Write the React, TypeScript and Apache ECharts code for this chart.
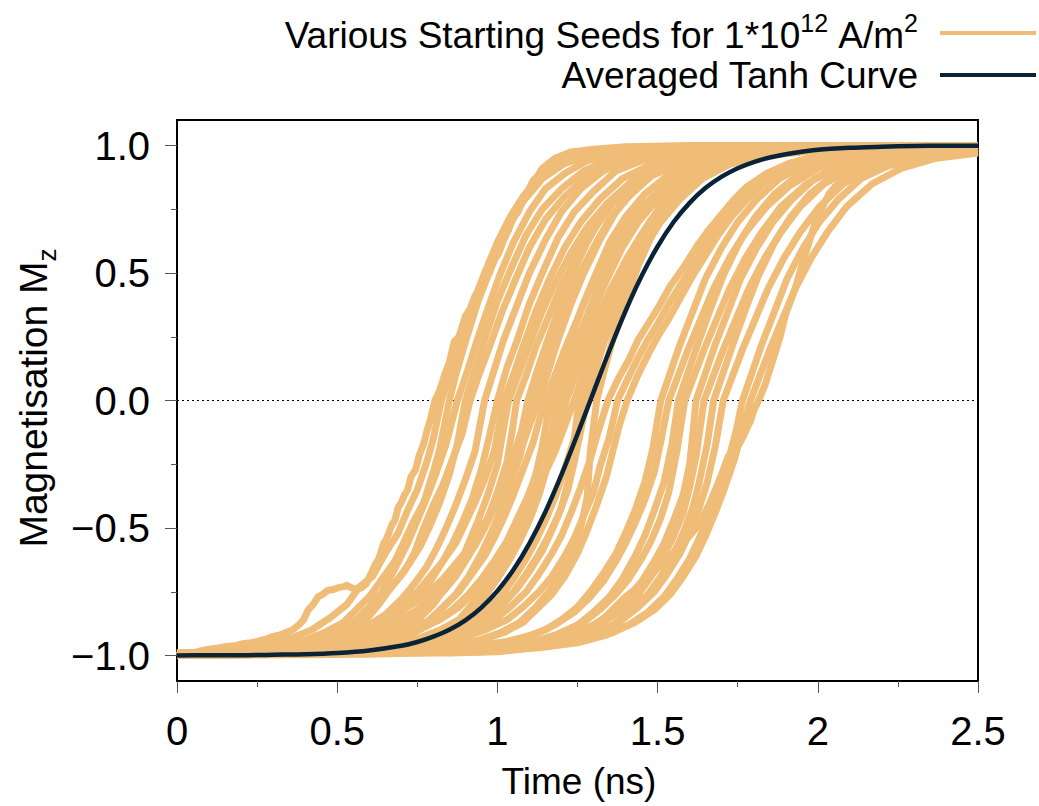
import React, { useEffect, useRef } from 'react';
import * as echarts from 'echarts';

const FONT = '"Liberation Sans", Arial, Helvetica, sans-serif';
const ORANGE = '#EFBD78';
const NAVY = '#0A2336';

const xRange = [0, 2.5];
const yRange = [-1.1, 1.1];
const yMajorValues = [-1, -0.5, 0, 0.5, 1];
const yMinorValues = [-0.75, -0.25, 0.25, 0.75];

const seedName = 'Various Starting Seeds for 1*10^12 A/m^2';
const averageName = 'Averaged Tanh Curve';

const seed01 = [[0,-1.0],[0.03,-0.995],[0.05,-0.99],[0.08,-0.98],[0.1,-0.975],[0.13,-0.97],[0.15,-0.965],[0.18,-0.962],[0.2,-0.955],[0.23,-0.95],[0.25,-0.945],[0.28,-0.935],[0.3,-0.925],[0.32,-0.92],[0.34,-0.91],[0.36,-0.9],[0.38,-0.88],[0.395,-0.86],[0.41,-0.82],[0.425,-0.8],[0.44,-0.77],[0.455,-0.76],[0.47,-0.745],[0.49,-0.74],[0.5,-0.735],[0.52,-0.73],[0.53,-0.725],[0.545,-0.735],[0.56,-0.74],[0.575,-0.735],[0.59,-0.72],[0.605,-0.68],[0.62,-0.64],[0.63,-0.62],[0.645,-0.56],[0.655,-0.54],[0.67,-0.49],[0.68,-0.47],[0.69,-0.42],[0.7,-0.4],[0.71,-0.37],[0.72,-0.35],[0.73,-0.3],[0.745,-0.27],[0.755,-0.22],[0.77,-0.17],[0.78,-0.12],[0.79,-0.08],[0.805,0],[0.82,0.04],[0.835,0.1],[0.85,0.15],[0.865,0.23],[0.88,0.25],[0.9,0.33],[0.915,0.36],[0.93,0.41],[0.945,0.43],[0.96,0.47],[0.975,0.5],[0.99,0.55],[1.005,0.58],[1.02,0.63],[1.035,0.67],[1.05,0.72],[1.065,0.74],[1.08,0.79],[1.095,0.82],[1.11,0.86],[1.125,0.88],[1.14,0.91],[1.16,0.93],[1.18,0.95],[1.2,0.96],[1.23,0.975],[1.3,0.985],[1.4,0.995],[1.6,1.0],[2.0,1.0],[2.5,1.0]];
const seed02 = [[0,-0.995],[0.1,-0.985],[0.2,-0.97],[0.28,-0.955],[0.36,-0.93],[0.42,-0.9],[0.48,-0.85],[0.53,-0.8],[0.57,-0.73],[0.61,-0.69],[0.65,-0.6],[0.69,-0.52],[0.72,-0.43],[0.75,-0.35],[0.78,-0.24],[0.8,-0.15],[0.825,0],[0.855,0.11],[0.885,0.24],[0.92,0.37],[0.96,0.5],[1.0,0.62],[1.04,0.72],[1.08,0.8],[1.12,0.86],[1.16,0.91],[1.2,0.94],[1.26,0.965],[1.34,0.98],[1.45,0.99],[1.7,1.0],[2.5,1.0]];
const seed03 = [[0,-1.0],[0.1,-0.99],[0.2,-0.985],[0.3,-0.97],[0.4,-0.94],[0.46,-0.91],[0.52,-0.87],[0.56,-0.82],[0.6,-0.77],[0.64,-0.7],[0.68,-0.63],[0.71,-0.55],[0.74,-0.47],[0.77,-0.4],[0.8,-0.28],[0.82,-0.19],[0.85,0],[0.87,0.1],[0.9,0.23],[0.94,0.39],[0.98,0.52],[1.03,0.67],[1.08,0.78],[1.14,0.87],[1.21,0.93],[1.3,0.965],[1.41,0.985],[1.6,0.995],[2.0,1.0],[2.5,1.0]];
const seed04 = [[0,-0.995],[0.15,-0.99],[0.3,-0.985],[0.4,-0.965],[0.46,-0.94],[0.52,-0.9],[0.56,-0.86],[0.6,-0.81],[0.64,-0.75],[0.68,-0.66],[0.72,-0.56],[0.75,-0.47],[0.78,-0.38],[0.81,-0.28],[0.84,-0.17],[0.875,0],[0.905,0.11],[0.935,0.23],[0.97,0.36],[1.01,0.5],[1.05,0.62],[1.1,0.74],[1.15,0.83],[1.21,0.89],[1.28,0.94],[1.37,0.97],[1.48,0.985],[1.7,0.995],[2.5,1.0]];
const seed05 = [[0,-1.0],[0.12,-0.99],[0.25,-0.975],[0.35,-0.96],[0.43,-0.94],[0.5,-0.9],[0.56,-0.86],[0.61,-0.81],[0.65,-0.76],[0.69,-0.7],[0.73,-0.63],[0.76,-0.57],[0.79,-0.49],[0.82,-0.4],[0.85,-0.29],[0.875,-0.17],[0.9,0],[0.93,0.12],[0.96,0.24],[1.0,0.39],[1.04,0.51],[1.09,0.65],[1.14,0.75],[1.2,0.83],[1.27,0.9],[1.35,0.945],[1.45,0.97],[1.6,0.99],[1.9,1.0],[2.5,1.0]];
const seed06 = [[0,-0.99],[0.15,-0.985],[0.3,-0.975],[0.4,-0.96],[0.48,-0.93],[0.54,-0.9],[0.59,-0.86],[0.63,-0.8],[0.67,-0.73],[0.71,-0.67],[0.74,-0.6],[0.77,-0.5],[0.8,-0.41],[0.83,-0.33],[0.86,-0.23],[0.89,-0.13],[0.915,0],[0.945,0.11],[0.975,0.21],[1.015,0.35],[1.055,0.47],[1.1,0.6],[1.15,0.71],[1.21,0.8],[1.28,0.88],[1.36,0.93],[1.46,0.96],[1.6,0.98],[1.8,0.99],[2.5,1.0]];
const seed07 = [[0,-0.99],[0.2,-0.985],[0.35,-0.97],[0.45,-0.95],[0.53,-0.92],[0.6,-0.88],[0.65,-0.84],[0.7,-0.78],[0.74,-0.72],[0.78,-0.65],[0.81,-0.58],[0.84,-0.5],[0.87,-0.41],[0.9,-0.31],[0.93,-0.2],[0.945,-0.1],[0.96,0],[0.99,0.12],[1.02,0.24],[1.06,0.37],[1.1,0.5],[1.15,0.63],[1.2,0.74],[1.26,0.83],[1.33,0.9],[1.41,0.945],[1.52,0.97],[1.68,0.985],[2.0,0.995],[2.5,1.0]];
const seed08 = [[0,-1.0],[0.2,-0.99],[0.35,-0.98],[0.45,-0.965],[0.53,-0.945],[0.6,-0.91],[0.66,-0.87],[0.71,-0.82],[0.75,-0.77],[0.79,-0.71],[0.83,-0.63],[0.86,-0.56],[0.89,-0.48],[0.92,-0.39],[0.95,-0.27],[0.975,-0.14],[1.0,0],[1.03,0.13],[1.06,0.23],[1.1,0.38],[1.14,0.5],[1.19,0.64],[1.24,0.74],[1.3,0.82],[1.37,0.9],[1.45,0.94],[1.55,0.97],[1.7,0.985],[2.0,0.995],[2.5,1.0]];
const seed09 = [[0,-0.99],[0.15,-0.985],[0.3,-0.975],[0.4,-0.955],[0.5,-0.93],[0.58,-0.89],[0.65,-0.85],[0.7,-0.8],[0.75,-0.75],[0.79,-0.69],[0.83,-0.63],[0.87,-0.56],[0.9,-0.48],[0.93,-0.4],[0.96,-0.31],[0.99,-0.2],[1.02,0],[1.05,0.1],[1.08,0.21],[1.12,0.35],[1.16,0.47],[1.21,0.6],[1.26,0.7],[1.32,0.79],[1.39,0.87],[1.47,0.92],[1.57,0.955],[1.7,0.975],[1.9,0.99],[2.5,1.0]];
const seed10 = [[0,-1.0],[0.25,-0.995],[0.4,-0.985],[0.5,-0.97],[0.58,-0.955],[0.65,-0.93],[0.71,-0.9],[0.76,-0.85],[0.8,-0.8],[0.84,-0.73],[0.88,-0.65],[0.91,-0.56],[0.94,-0.47],[0.97,-0.37],[1.0,-0.25],[1.015,-0.14],[1.035,0],[1.065,0.1],[1.1,0.22],[1.14,0.35],[1.18,0.46],[1.23,0.58],[1.28,0.68],[1.34,0.77],[1.42,0.86],[1.51,0.92],[1.62,0.955],[1.76,0.98],[1.95,0.99],[2.5,1.0]];
const seed11 = [[0,-1.0],[0.25,-0.99],[0.4,-0.975],[0.52,-0.955],[0.6,-0.93],[0.67,-0.9],[0.73,-0.86],[0.78,-0.81],[0.83,-0.75],[0.87,-0.69],[0.91,-0.61],[0.94,-0.54],[0.97,-0.46],[1.0,-0.36],[1.03,-0.24],[1.045,-0.13],[1.06,0],[1.09,0.1],[1.12,0.21],[1.16,0.33],[1.2,0.45],[1.25,0.57],[1.3,0.67],[1.36,0.77],[1.43,0.85],[1.52,0.91],[1.63,0.95],[1.78,0.975],[2.0,0.99],[2.5,1.0]];
const seed12 = [[0,-0.995],[0.2,-0.99],[0.35,-0.98],[0.47,-0.96],[0.56,-0.935],[0.63,-0.9],[0.7,-0.86],[0.75,-0.82],[0.8,-0.77],[0.85,-0.71],[0.89,-0.64],[0.93,-0.57],[0.96,-0.5],[0.99,-0.42],[1.02,-0.33],[1.05,-0.22],[1.075,-0.12],[1.095,0],[1.125,0.12],[1.155,0.23],[1.195,0.37],[1.235,0.5],[1.28,0.62],[1.33,0.73],[1.39,0.82],[1.46,0.89],[1.54,0.94],[1.65,0.97],[1.8,0.985],[2.1,0.995],[2.5,1.0]];
const seed13 = [[0,-1.0],[0.25,-0.99],[0.45,-0.98],[0.58,-0.96],[0.66,-0.94],[0.72,-0.91],[0.78,-0.87],[0.83,-0.81],[0.87,-0.76],[0.91,-0.69],[0.95,-0.6],[0.98,-0.52],[1.01,-0.43],[1.04,-0.33],[1.07,-0.22],[1.09,-0.12],[1.11,0],[1.14,0.11],[1.17,0.22],[1.21,0.36],[1.25,0.48],[1.3,0.6],[1.35,0.71],[1.41,0.8],[1.48,0.88],[1.57,0.93],[1.68,0.965],[1.82,0.98],[2.05,0.99],[2.5,1.0]];
const seed14 = [[0,-0.99],[0.15,-0.985],[0.3,-0.97],[0.4,-0.95],[0.5,-0.925],[0.58,-0.9],[0.65,-0.86],[0.72,-0.81],[0.78,-0.76],[0.83,-0.7],[0.87,-0.64],[0.91,-0.58],[0.95,-0.5],[0.99,-0.42],[1.02,-0.35],[1.05,-0.26],[1.08,-0.17],[1.105,-0.08],[1.13,0],[1.16,0.12],[1.19,0.24],[1.23,0.38],[1.27,0.5],[1.32,0.63],[1.37,0.74],[1.43,0.83],[1.5,0.9],[1.58,0.945],[1.68,0.97],[1.83,0.985],[2.1,0.995],[2.5,1.0]];
const seed15 = [[0,-1.0],[0.3,-0.99],[0.45,-0.98],[0.57,-0.96],[0.66,-0.93],[0.73,-0.9],[0.79,-0.86],[0.84,-0.8],[0.88,-0.75],[0.92,-0.68],[0.96,-0.61],[0.99,-0.54],[1.02,-0.46],[1.05,-0.37],[1.08,-0.27],[1.11,-0.17],[1.13,-0.08],[1.15,0],[1.18,0.1],[1.21,0.2],[1.25,0.32],[1.29,0.44],[1.34,0.56],[1.39,0.66],[1.45,0.76],[1.53,0.85],[1.62,0.915],[1.73,0.955],[1.87,0.98],[2.05,0.99],[2.5,1.0]];
const seed16 = [[0,-0.995],[0.3,-0.99],[0.5,-0.98],[0.62,-0.965],[0.7,-0.95],[0.77,-0.93],[0.83,-0.9],[0.88,-0.86],[0.92,-0.8],[0.96,-0.74],[1.0,-0.67],[1.03,-0.6],[1.06,-0.5],[1.09,-0.4],[1.12,-0.29],[1.14,-0.18],[1.165,0],[1.195,0.11],[1.225,0.22],[1.265,0.37],[1.305,0.49],[1.35,0.62],[1.4,0.72],[1.46,0.81],[1.53,0.88],[1.61,0.93],[1.71,0.96],[1.85,0.98],[2.1,0.99],[2.5,1.0]];
const seed17 = [[0,-0.995],[0.3,-0.99],[0.5,-0.98],[0.64,-0.965],[0.74,-0.94],[0.81,-0.91],[0.87,-0.87],[0.92,-0.82],[0.96,-0.77],[1.0,-0.7],[1.04,-0.62],[1.07,-0.55],[1.1,-0.47],[1.13,-0.37],[1.16,-0.24],[1.17,-0.13],[1.185,0],[1.215,0.11],[1.245,0.22],[1.285,0.35],[1.325,0.48],[1.375,0.6],[1.425,0.7],[1.485,0.79],[1.555,0.87],[1.645,0.93],[1.75,0.96],[1.9,0.98],[2.2,0.99],[2.5,1.0]];
const seed18 = [[0,-1.0],[0.25,-0.99],[0.45,-0.98],[0.58,-0.96],[0.67,-0.94],[0.74,-0.91],[0.8,-0.87],[0.86,-0.82],[0.91,-0.76],[0.95,-0.7],[0.99,-0.63],[1.03,-0.55],[1.06,-0.47],[1.09,-0.39],[1.12,-0.3],[1.15,-0.2],[1.175,-0.1],[1.2,0],[1.23,0.11],[1.26,0.22],[1.3,0.35],[1.34,0.47],[1.39,0.6],[1.44,0.7],[1.5,0.79],[1.57,0.87],[1.66,0.93],[1.77,0.96],[1.92,0.98],[2.2,0.99],[2.5,1.0]];
const seed19 = [[0,-0.99],[0.3,-0.985],[0.5,-0.975],[0.65,-0.96],[0.74,-0.94],[0.82,-0.9],[0.88,-0.86],[0.93,-0.8],[0.97,-0.74],[1.01,-0.67],[1.05,-0.59],[1.08,-0.51],[1.11,-0.41],[1.14,-0.31],[1.17,-0.21],[1.19,-0.12],[1.215,0],[1.245,0.1],[1.275,0.2],[1.315,0.33],[1.355,0.44],[1.405,0.56],[1.455,0.66],[1.515,0.76],[1.595,0.85],[1.685,0.91],[1.8,0.955],[1.95,0.98],[2.2,0.99],[2.5,1.0]];
const seed20 = [[0,-1.0],[0.2,-0.99],[0.4,-0.98],[0.55,-0.965],[0.66,-0.94],[0.75,-0.9],[0.82,-0.86],[0.88,-0.81],[0.93,-0.75],[0.98,-0.69],[1.02,-0.61],[1.06,-0.52],[1.09,-0.45],[1.12,-0.37],[1.15,-0.28],[1.18,-0.2],[1.21,-0.1],[1.24,0],[1.27,0.11],[1.3,0.22],[1.34,0.36],[1.38,0.48],[1.43,0.61],[1.48,0.71],[1.54,0.8],[1.61,0.88],[1.7,0.93],[1.81,0.96],[1.96,0.98],[2.2,0.99],[2.5,1.0]];
const seed21 = [[0,-1.0],[0.4,-0.99],[0.6,-0.98],[0.73,-0.96],[0.83,-0.93],[0.9,-0.9],[0.96,-0.86],[1.01,-0.81],[1.06,-0.74],[1.1,-0.67],[1.14,-0.59],[1.17,-0.51],[1.2,-0.42],[1.22,-0.32],[1.235,-0.2],[1.245,-0.1],[1.255,0],[1.285,0.12],[1.315,0.23],[1.355,0.37],[1.395,0.5],[1.445,0.63],[1.495,0.73],[1.555,0.82],[1.625,0.89],[1.71,0.94],[1.82,0.97],[1.98,0.985],[2.5,1.0]];
const seed22 = [[0,-0.995],[0.35,-0.99],[0.55,-0.98],[0.68,-0.965],[0.78,-0.94],[0.86,-0.91],[0.92,-0.87],[0.97,-0.82],[1.01,-0.77],[1.05,-0.7],[1.09,-0.62],[1.12,-0.55],[1.15,-0.47],[1.18,-0.38],[1.21,-0.27],[1.24,-0.15],[1.27,0],[1.3,0.11],[1.33,0.22],[1.37,0.35],[1.41,0.48],[1.46,0.6],[1.51,0.7],[1.57,0.79],[1.64,0.87],[1.73,0.93],[1.84,0.96],[2.0,0.98],[2.25,0.99],[2.5,1.0]];
const seed23 = [[0,-1.0],[0.35,-0.99],[0.55,-0.98],[0.7,-0.96],[0.8,-0.94],[0.88,-0.9],[0.95,-0.86],[1.0,-0.81],[1.05,-0.75],[1.09,-0.68],[1.13,-0.6],[1.16,-0.53],[1.19,-0.45],[1.22,-0.35],[1.24,-0.24],[1.26,-0.12],[1.28,0],[1.31,0.13],[1.34,0.26],[1.38,0.41],[1.42,0.54],[1.47,0.68],[1.52,0.79],[1.58,0.87],[1.65,0.93],[1.74,0.965],[1.86,0.985],[2.05,0.995],[2.5,1.0]];
const seed24 = [[0,-0.995],[0.45,-0.99],[0.7,-0.98],[0.84,-0.965],[0.94,-0.94],[1.01,-0.91],[1.07,-0.87],[1.12,-0.81],[1.16,-0.75],[1.2,-0.68],[1.23,-0.6],[1.26,-0.5],[1.28,-0.38],[1.29,-0.2],[1.3,-0.1],[1.31,0],[1.33,0.1],[1.36,0.24],[1.4,0.39],[1.44,0.53],[1.49,0.67],[1.54,0.78],[1.6,0.87],[1.67,0.93],[1.76,0.965],[1.88,0.985],[2.1,0.995],[2.5,1.0]];
const seed25 = [[0,-0.99],[0.4,-0.985],[0.6,-0.975],[0.75,-0.96],[0.85,-0.935],[0.93,-0.9],[0.99,-0.86],[1.04,-0.81],[1.09,-0.75],[1.13,-0.68],[1.17,-0.6],[1.2,-0.53],[1.23,-0.44],[1.26,-0.34],[1.29,-0.23],[1.315,-0.12],[1.345,0],[1.375,0.08],[1.41,0.16],[1.44,0.24],[1.47,0.3],[1.5,0.36],[1.54,0.45],[1.58,0.52],[1.62,0.6],[1.66,0.67],[1.7,0.73],[1.74,0.79],[1.78,0.84],[1.84,0.89],[1.91,0.93],[2.0,0.96],[2.12,0.98],[2.3,0.99],[2.5,0.995]];
const seed26 = [[0,-1.0],[0.4,-0.99],[0.62,-0.98],[0.78,-0.96],[0.88,-0.935],[0.96,-0.9],[1.03,-0.86],[1.08,-0.81],[1.13,-0.75],[1.17,-0.69],[1.21,-0.61],[1.24,-0.54],[1.27,-0.45],[1.3,-0.36],[1.32,-0.26],[1.35,-0.14],[1.375,0],[1.405,0.08],[1.44,0.17],[1.47,0.24],[1.5,0.3],[1.54,0.39],[1.58,0.47],[1.62,0.55],[1.66,0.63],[1.7,0.7],[1.75,0.77],[1.8,0.84],[1.86,0.89],[1.93,0.93],[2.02,0.96],[2.15,0.98],[2.35,0.99],[2.5,0.995]];
const seed27 = [[0,-0.995],[0.45,-0.99],[0.7,-0.98],[0.85,-0.965],[0.95,-0.94],[1.02,-0.91],[1.08,-0.87],[1.13,-0.81],[1.17,-0.76],[1.21,-0.69],[1.25,-0.6],[1.28,-0.51],[1.31,-0.41],[1.34,-0.3],[1.36,-0.2],[1.38,-0.1],[1.405,0],[1.435,0.09],[1.47,0.18],[1.5,0.25],[1.53,0.31],[1.57,0.4],[1.61,0.49],[1.65,0.57],[1.69,0.65],[1.73,0.72],[1.78,0.79],[1.83,0.85],[1.89,0.9],[1.96,0.935],[2.05,0.96],[2.18,0.98],[2.38,0.99],[2.5,0.99]];
const seed28 = [[0,-1.0],[0.5,-0.99],[0.75,-0.985],[0.9,-0.97],[1.0,-0.955],[1.08,-0.93],[1.15,-0.9],[1.2,-0.86],[1.25,-0.81],[1.29,-0.75],[1.33,-0.68],[1.37,-0.6],[1.4,-0.52],[1.43,-0.43],[1.46,-0.32],[1.485,-0.19],[1.51,0],[1.54,0.11],[1.57,0.22],[1.61,0.35],[1.65,0.48],[1.7,0.6],[1.75,0.7],[1.81,0.79],[1.88,0.87],[1.97,0.93],[2.08,0.96],[2.22,0.98],[2.5,0.99]];
const seed29 = [[0,-0.995],[0.5,-0.99],[0.75,-0.98],[0.92,-0.965],[1.03,-0.945],[1.11,-0.92],[1.18,-0.88],[1.24,-0.83],[1.29,-0.77],[1.33,-0.71],[1.37,-0.63],[1.4,-0.56],[1.43,-0.48],[1.46,-0.39],[1.49,-0.28],[1.51,-0.16],[1.535,0],[1.565,0.1],[1.595,0.2],[1.635,0.32],[1.675,0.44],[1.725,0.56],[1.775,0.66],[1.84,0.76],[1.91,0.84],[2.0,0.91],[2.11,0.95],[2.26,0.975],[2.5,0.99]];
const seed30 = [[0,-1.0],[0.55,-0.99],[0.8,-0.985],[0.98,-0.97],[1.1,-0.95],[1.18,-0.92],[1.25,-0.88],[1.3,-0.83],[1.35,-0.77],[1.39,-0.7],[1.43,-0.61],[1.46,-0.53],[1.49,-0.43],[1.52,-0.32],[1.545,-0.17],[1.565,0],[1.595,0.11],[1.625,0.22],[1.665,0.36],[1.705,0.49],[1.755,0.62],[1.805,0.72],[1.865,0.81],[1.935,0.88],[2.02,0.93],[2.13,0.96],[2.28,0.98],[2.5,0.99]];
const seed31 = [[0,-0.99],[0.55,-0.985],[0.82,-0.98],[1.0,-0.965],[1.12,-0.945],[1.2,-0.915],[1.27,-0.87],[1.32,-0.82],[1.37,-0.76],[1.41,-0.7],[1.45,-0.62],[1.48,-0.55],[1.51,-0.46],[1.535,-0.36],[1.56,-0.2],[1.585,0],[1.615,0.1],[1.645,0.2],[1.685,0.32],[1.725,0.44],[1.775,0.56],[1.825,0.66],[1.885,0.76],[1.965,0.85],[2.055,0.91],[2.165,0.95],[2.31,0.975],[2.5,0.985]];
const seed32 = [[0,-1.0],[0.6,-0.99],[0.85,-0.985],[1.02,-0.97],[1.14,-0.95],[1.23,-0.92],[1.3,-0.88],[1.36,-0.83],[1.41,-0.77],[1.45,-0.71],[1.49,-0.63],[1.52,-0.56],[1.55,-0.47],[1.58,-0.37],[1.6,-0.25],[1.61,-0.13],[1.62,0],[1.65,0.11],[1.68,0.22],[1.72,0.35],[1.76,0.48],[1.81,0.6],[1.86,0.7],[1.92,0.79],[1.99,0.87],[2.08,0.93],[2.19,0.96],[2.34,0.98],[2.5,0.985]];
const seed33 = [[0,-0.995],[0.6,-0.99],[0.88,-0.98],[1.05,-0.965],[1.17,-0.945],[1.26,-0.91],[1.33,-0.87],[1.39,-0.82],[1.44,-0.76],[1.48,-0.69],[1.52,-0.61],[1.55,-0.53],[1.58,-0.44],[1.6,-0.34],[1.62,-0.22],[1.645,0],[1.675,0.1],[1.705,0.2],[1.745,0.32],[1.785,0.44],[1.835,0.56],[1.885,0.66],[1.945,0.76],[2.02,0.85],[2.11,0.91],[2.22,0.95],[2.36,0.975],[2.5,0.985]];
const seed34 = [[0,-1.0],[0.6,-0.995],[0.9,-0.985],[1.08,-0.97],[1.2,-0.95],[1.29,-0.92],[1.36,-0.88],[1.42,-0.82],[1.47,-0.76],[1.51,-0.69],[1.55,-0.6],[1.58,-0.52],[1.61,-0.42],[1.63,-0.32],[1.655,-0.17],[1.675,0],[1.705,0.11],[1.735,0.22],[1.775,0.36],[1.815,0.49],[1.865,0.62],[1.915,0.72],[1.975,0.81],[2.045,0.88],[2.13,0.93],[2.24,0.96],[2.38,0.98],[2.5,0.985]];
const seed35 = [[0,-0.99],[0.65,-0.985],[0.92,-0.98],[1.1,-0.965],[1.22,-0.94],[1.31,-0.91],[1.38,-0.87],[1.44,-0.81],[1.49,-0.75],[1.53,-0.68],[1.57,-0.6],[1.6,-0.52],[1.63,-0.42],[1.655,-0.32],[1.68,-0.18],[1.705,0],[1.735,0.1],[1.765,0.2],[1.805,0.32],[1.845,0.44],[1.895,0.56],[1.945,0.66],[2.005,0.76],[2.08,0.85],[2.17,0.91],[2.28,0.95],[2.42,0.975],[2.5,0.98]];
const seed36 = [[0,-1.0],[0.65,-0.99],[0.95,-0.985],[1.13,-0.97],[1.25,-0.95],[1.34,-0.92],[1.41,-0.88],[1.47,-0.83],[1.52,-0.77],[1.56,-0.7],[1.6,-0.62],[1.63,-0.54],[1.66,-0.45],[1.69,-0.35],[1.72,-0.24],[1.745,-0.12],[1.765,0],[1.795,0.11],[1.825,0.22],[1.865,0.35],[1.905,0.48],[1.955,0.6],[2.005,0.7],[2.065,0.79],[2.135,0.87],[2.22,0.92],[2.33,0.955],[2.5,0.975]];
const seed37 = [[0,-0.995],[0.65,-0.99],[0.98,-0.98],[1.15,-0.965],[1.27,-0.94],[1.36,-0.91],[1.43,-0.87],[1.49,-0.82],[1.54,-0.76],[1.58,-0.69],[1.62,-0.61],[1.65,-0.53],[1.68,-0.44],[1.71,-0.34],[1.74,-0.23],[1.765,-0.11],[1.79,0],[1.82,0.1],[1.85,0.2],[1.89,0.32],[1.93,0.44],[1.98,0.56],[2.03,0.66],[2.09,0.76],[2.17,0.85],[2.26,0.91],[2.37,0.95],[2.5,0.97]];
const seed38 = [[0,-1.0],[0.3,-0.995],[0.7,-0.99],[0.85,-0.99],[1.0,-0.985],[1.08,-0.975],[1.15,-0.96],[1.2,-0.945],[1.24,-0.92],[1.28,-0.9],[1.32,-0.87],[1.36,-0.82],[1.4,-0.77],[1.43,-0.74],[1.46,-0.7],[1.485,-0.68],[1.51,-0.64],[1.535,-0.62],[1.56,-0.58],[1.58,-0.56],[1.6,-0.53],[1.62,-0.5],[1.64,-0.46],[1.66,-0.41],[1.68,-0.35],[1.7,-0.29],[1.72,-0.22],[1.74,-0.2],[1.76,-0.16],[1.775,-0.12],[1.79,-0.08],[1.8,-0.04],[1.815,0],[1.835,0.06],[1.86,0.16],[1.88,0.24],[1.9,0.34],[1.93,0.44],[1.955,0.55],[1.975,0.63],[1.995,0.71],[2.015,0.76],[2.035,0.81],[2.055,0.84],[2.075,0.86],[2.095,0.88],[2.115,0.9],[2.17,0.92],[2.22,0.94],[2.28,0.95],[2.33,0.96],[2.42,0.97],[2.5,0.975]];

const seedRuns = [seed01, seed02, seed03, seed04, seed05, seed06, seed07, seed08, seed09, seed10, seed11, seed12, seed13, seed14, seed15, seed16, seed17, seed18, seed19, seed20, seed21, seed22, seed23, seed24, seed25, seed26, seed27, seed28, seed29, seed30, seed31, seed32, seed33, seed34, seed35, seed36, seed37, seed38];

const averagedTanh = [[0,-1.0],[0.1,-0.999],[0.2,-0.999],[0.3,-0.997],[0.4,-0.995],[0.5,-0.99],[0.6,-0.98],[0.7,-0.962],[0.75,-0.947],[0.8,-0.926],[0.85,-0.899],[0.9,-0.862],[0.95,-0.812],[1.0,-0.747],[1.05,-0.664],[1.1,-0.56],[1.15,-0.436],[1.2,-0.291],[1.25,-0.132],[1.3,0.033],[1.35,0.197],[1.4,0.351],[1.45,0.488],[1.5,0.604],[1.55,0.7],[1.6,0.775],[1.65,0.834],[1.7,0.878],[1.75,0.911],[1.8,0.935],[1.85,0.953],[1.9,0.966],[2.0,0.983],[2.1,0.991],[2.2,0.995],[2.3,0.998],[2.4,0.999],[2.5,0.999]];

const zeroLine = [[0, 0], [2.5, 0]];

export default function App() {
  const ref = useRef<HTMLDivElement>(null);
  useEffect(() => {
    if (!ref.current) return;
    const chart = echarts.init(ref.current, undefined, { renderer: 'svg' });
    const fmtY = (v: number) => (v < 0 ? '\u2212' : '') + Math.abs(v).toFixed(1);
    const series: any[] = [
      {
        type: 'line', data: zeroLine, showSymbol: false, silent: true, z: 1,
        lineStyle: { color: '#000', width: 1, type: [2, 3] },
      },
      ...seedRuns.map((d) => ({
        name: seedName, type: 'line', data: d, showSymbol: false, silent: true, z: 2,
        lineStyle: { color: ORANGE, width: 7, join: 'round' }, itemStyle: { color: ORANGE },
      })),
      {
        name: averageName, type: 'line', data: averagedTanh, showSymbol: false, silent: true, z: 3,
        smooth: 0.3, lineStyle: { color: NAVY, width: 4.5 }, itemStyle: { color: NAVY },
      },
    ];
    chart.setOption({
      animation: false,
      grid: { left: 177, top: 120, width: 801, height: 561, show: true, borderColor: '#000', borderWidth: 2, backgroundColor: 'transparent' },
      xAxis: {
        type: 'value', min: xRange[0], max: xRange[1], interval: 0.5,
        axisLine: { show: true, onZero: false, lineStyle: { color: '#000', width: 2 } },
        axisTick: { show: true, length: 12, lineStyle: { color: '#555', width: 1 } },
        minorTick: { show: true, splitNumber: 2, length: 6, lineStyle: { color: '#555', width: 1 } },
        splitLine: { show: false },
        axisLabel: { fontSize: 40, color: '#000', fontFamily: FONT, margin: 30, formatter: (v: number) => String(v) },
      },
      yAxis: [
        {
          type: 'value', min: yRange[0], max: yRange[1],
          axisLine: { show: true, onZero: false, lineStyle: { color: '#000', width: 2 } },
          axisTick: { show: true, length: 12, customValues: yMajorValues, lineStyle: { color: '#555', width: 1 } },
          splitLine: { show: false },
          axisLabel: { fontSize: 40, color: '#000', fontFamily: FONT, margin: 27, customValues: yMajorValues, formatter: fmtY },
        },
        {
          type: 'value', min: yRange[0], max: yRange[1], position: 'left',
          axisLine: { show: false },
          axisTick: { show: true, length: 6, customValues: yMinorValues, lineStyle: { color: '#555', width: 1 } },
          splitLine: { show: false },
          axisLabel: { show: false },
        },
      ],
      series,
      graphic: [
        {
          type: 'text', x: 33, y: 398, rotation: Math.PI / 2,
          style: {
            text: '{a|Magnetisation M}{b|z}', align: 'center', verticalAlign: 'middle', fill: '#000',
            rich: {
              a: { fontSize: 39, lineHeight: 54, fontFamily: FONT, fill: '#000' },
              b: { fontSize: 26, lineHeight: 30, fontFamily: FONT, verticalAlign: 'bottom', fill: '#000' },
            },
          },
        },
        {
          type: 'text', x: 579, y: 781,
          style: { text: 'Time (ns)', fontSize: 37, fontFamily: FONT, fill: '#000', align: 'center', verticalAlign: 'middle' },
        },
        {
          type: 'text', x: 918, y: 35,
          style: {
            text: '{a|Various Starting Seeds for 1*10}{s|12}{a| A/m}{s|2}', align: 'right', verticalAlign: 'middle', fill: '#000',
            rich: {
              a: { fontSize: 37, lineHeight: 50, fontFamily: FONT, fill: '#000' },
              s: { fontSize: 25, lineHeight: 22, fontFamily: FONT, verticalAlign: 'top', fill: '#000' },
            },
          },
        },
        {
          type: 'line', shape: { x1: 940, y1: 33, x2: 1036, y2: 33 },
          style: { stroke: ORANGE, lineWidth: 4 },
        },
        {
          type: 'text', x: 918, y: 75,
          style: { text: averageName, fontSize: 37, fontFamily: FONT, fill: '#000', align: 'right', verticalAlign: 'middle' },
        },
        {
          type: 'line', shape: { x1: 940, y1: 75, x2: 1036, y2: 75 },
          style: { stroke: NAVY, lineWidth: 4 },
        },
      ],
    });
    return () => chart.dispose();
  }, []);
  return <div ref={ref} style={{ position: 'fixed', left: 0, top: 0, width: 1039, height: 806, background: '#fff' }} />;
}
